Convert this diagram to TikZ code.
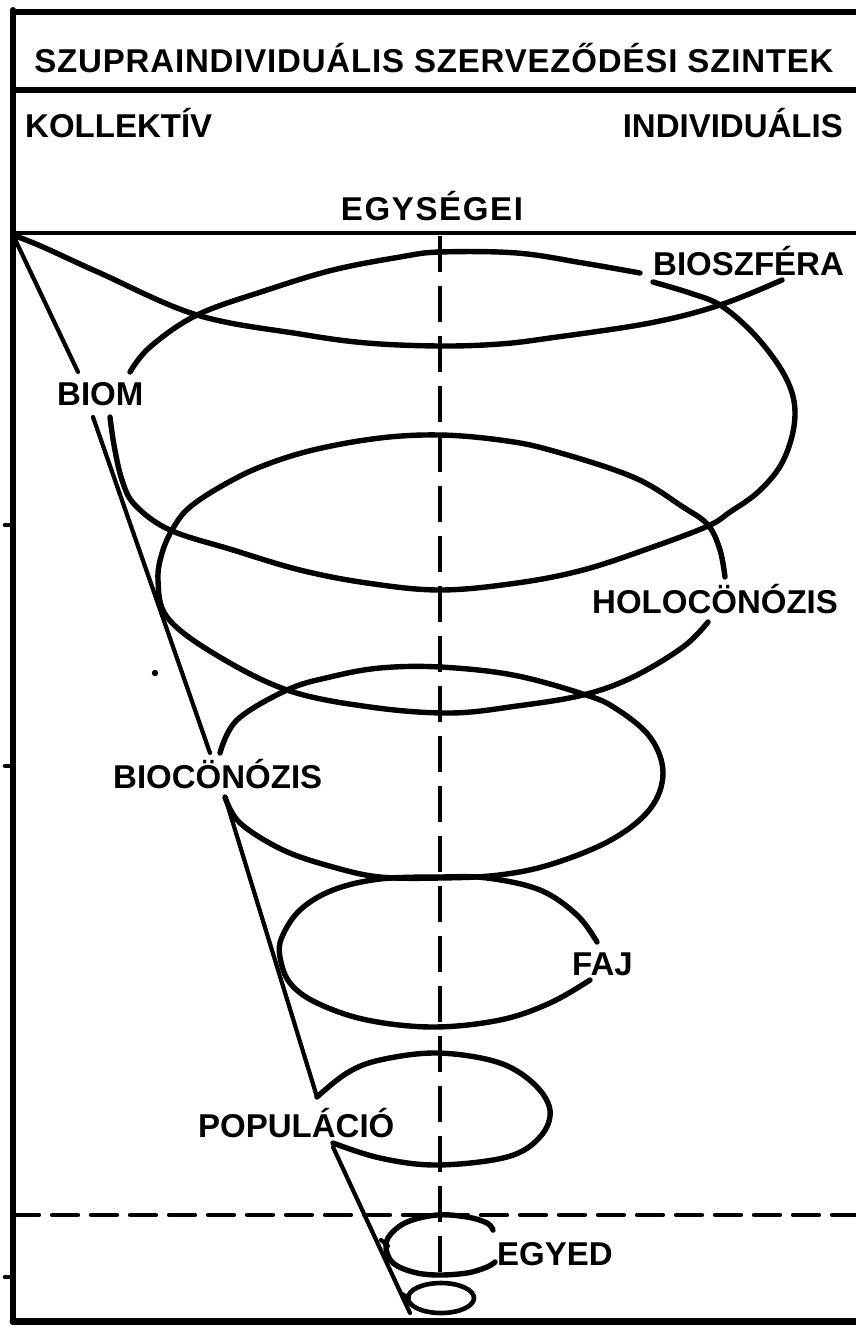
\documentclass[tikz,border=0pt]{standalone}
\usepackage{fontspec}
\setmainfont{Liberation Sans}
\begin{document}
\begin{tikzpicture}[x=1pt,y=-1pt,line join=round,line cap=round,
  frame/.style={line width=6pt},
  curve/.style={line width=5.4pt},
  cone/.style={line width=4.2pt},
  lab/.style={inner sep=0pt,anchor=base west,font=\bfseries\fontsize{33}{34}\selectfont},
  head/.style={inner sep=0pt,anchor=base,font=\bfseries\fontsize{33}{34}\selectfont\addfontfeature{LetterSpace=2.5}}]
\useasboundingbox (0,0) rectangle (856,1326);
\fill[white] (0,0) rectangle (856,1326);
% frame
\draw[frame] (13,12) -- (856,12);
\draw[frame] (13,90) -- (856,90);
\draw[line width=4pt] (13,233) -- (856,233);
\draw[frame] (13,10) -- (13,1322);
\draw[line width=7pt] (13,1321) -- (856,1321);
\foreach \t in {525,766,1277} \draw[line width=4.5pt] (5,\t) -- (13,\t);
% header texts
\node[head] (title) at (434,72) {SZUPRAINDIVIDUÁLIS SZERVEZŐDÉSI SZINTEK};
\node[lab] (koll) at (25,137) {KOLLEKTÍV};
\node[lab,anchor=base east] (indiv) at (843,137) {INDIVIDUÁLIS};
\node[head,font=\bfseries\fontsize{33}{34}\selectfont\addfontfeature{LetterSpace=5}] (egys) at (432,220) {EGYSÉGEI};
% axes
\draw[line width=3.8pt,line cap=butt,dash pattern=on 36pt off 14pt] (440,236) -- (440,1283);
\draw[line width=4.2pt,dash pattern=on 26pt off 13pt] (13,1215) -- (856,1215);
% top curve from corner
\draw[curve] plot[smooth,tension=0.6] coordinates {(13,235) (43,247) (100,273) (197,315) (300,334) (367,343) (440,346) (500,344) (550,338) (650,323) (720,305) (782,280)};
% cone edge
\draw[cone] (13,235) -- (78,372);
\draw[cone] (93,417) -- (210,753);
\draw[cone] (225,797) -- (317,1097);
\draw[cone] (333,1147) -- (410,1313);
% BIOSZFERA loop
\draw[curve] plot[smooth,tension=0.6] coordinates {(130,372) (150,347) (197,315) (267,290) (333,270) (400,257) (440,252) (517,253) (583,263) (640,273)};
\draw[curve] plot[smooth,tension=0.6] coordinates {(653,282) (690,293) (720,305) (750,330) (775,360) (790,387) (795,412) (791,440) (779,468) (757,493) (730,512) (708,526) (650,548) (583,570) (517,583) (440,590) (367,583) (300,570) (233,550) (170,530) (135,505) (122,480) (114,445) (110,417)};
% HOLOCONOZIS loop
\draw[curve] plot[smooth,tension=0.6] coordinates {(708,622) (683,647) (633,677) (583,695) (517,706) (450,713) (370,707) (287,690) (213,653) (167,617) (158,580) (163,550) (175,525) (190,507) (220,487) (260,467) (313,450) (380,438) (440,435) (500,440) (550,450) (633,477) (683,507) (708,525) (720,550) (725,577)};
% BIOCONOZIS loop
\draw[curve] plot[smooth,tension=0.6] coordinates {(220,753) (237,720) (287,690) (330,677) (380,668) (440,667) (513,675) (583,694) (615,708) (650,737) (663,773) (650,809) (611,840) (552,864) (499,875) (440,878) (380,877) (333,867) (283,850) (240,823) (225,797)};
% FAJ loop
\draw[curve] plot[smooth,tension=0.6] coordinates {(597,942) (577,915) (540,890) (487,878) (440,877) (380,879) (333,890) (300,910) (282,937) (280,957) (290,983) (317,1003) (367,1020) (433,1027) (500,1020) (550,1003) (590,980)};
% POPULACIO loop
\draw[curve] plot[smooth,tension=0.6] coordinates {(317,1097) (347,1073) (380,1060) (437,1053) (497,1062) (533,1083) (550,1110) (540,1137) (507,1157) (437,1165) (380,1158) (333,1143)};
% EGYED loop
\draw[curve] plot[smooth,tension=0.6] coordinates {(493,1230) (487,1223) (467,1217) (437,1215) (407,1222) (390,1235) (386,1248) (393,1263) (413,1272) (437,1275) (467,1273) (487,1267) (495,1262)};
\draw[cone] (381,1240) -- (388,1246);
% smallest loop
\draw[curve,line width=4.6pt] (441,1298) ellipse [x radius=33pt,y radius=15pt];
\draw[cone] (402,1294) -- (409,1298);
% stray dot
\fill (155,673) circle[radius=3.2pt];
% labels
\node[lab] (biosz) at (653,275) {BIOSZFÉRA};
\node[lab] (biom) at (57,405) {BIOM};
\node[lab] (holo) at (592,613) {HOLOCÖNÓZIS};
\node[lab] (bioc) at (113,788) {BIOCÖNÓZIS};
\node[lab] (faj) at (572,975) {FAJ};
\node[lab] (pop) at (198,1137) {POPULÁCIÓ};
\node[lab] (egyed) at (497,1265) {EGYED};
\end{tikzpicture}
\end{document}
